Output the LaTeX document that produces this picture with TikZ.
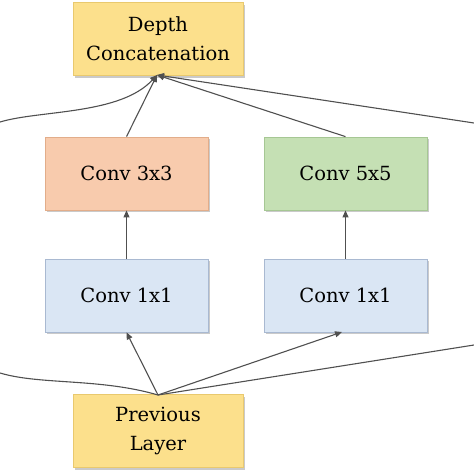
\documentclass[tikz,border=0pt]{standalone}
\usepackage{fontspec}
\setmainfont{DejaVu Serif}
\usetikzlibrary{arrows.meta,shadows,calc}
\definecolor{yel}{HTML}{FCE08C}
\definecolor{yelb}{HTML}{E9C96E}
\definecolor{sal}{HTML}{F8CBAD}
\definecolor{salb}{HTML}{E2AD8A}
\definecolor{grn}{HTML}{C5E0B4}
\definecolor{grnb}{HTML}{A6C794}
\definecolor{blu}{HTML}{DAE6F4}
\definecolor{blub}{HTML}{A9B9D1}
\definecolor{ln}{HTML}{505050}
\tikzset{
  box/.style={draw, line width=0.8pt, minimum width=163pt, minimum height=73pt, inner sep=0pt, align=center,
    font=\fontsize{19.5}{29}\selectfont,
    drop shadow={shadow xshift=2pt, shadow yshift=-2pt, fill=black!35, opacity=0.6}},
  ybox/.style={box, fill=yel, draw=yelb, minimum width=170pt},
  sbox/.style={box, fill=sal, draw=salb},
  gbox/.style={box, fill=grn, draw=grnb},
  bbox/.style={box, fill=blu, draw=blub},
  conn/.style={draw=ln, line width=1.1pt, -{Triangle[length=7pt,width=6pt]}},
  plain/.style={draw=ln, line width=1.1pt}
}
\begin{document}
\begin{tikzpicture}[x=1pt,y=-1pt]
\useasboundingbox (0,0) rectangle (474,474);
\node[ybox] (dc) at (158,39) {Depth\\Concatenation};
\node[sbox] (c3) at (126.5,173.5) {Conv 3x3};
\node[gbox] (c5) at (345.5,173.5) {Conv 5x5};
\node[bbox] (c1a) at (126.5,295.5) {Conv 1x1};
\node[bbox] (c1b) at (345.5,295.5) {Conv 1x1};
\node[ybox] (pl) at (158,431) {Previous\\Layer};
\coordinate (dcin) at (157,75);
\coordinate (plout) at (158,395);
\coordinate (c1bin) at (342,332);
\coordinate (lt) at (0,122);
\coordinate (rt) at (474,123);
\coordinate (lb) at (0,373);
\coordinate (rb) at (474,345);
% bottom fan-out
\draw[conn] (plout) -- (c1a.south);
\draw[conn] (plout) -- (c1bin);
\draw[plain] (lb) .. controls (40,385) and (100,378) .. (plout);
\draw[plain] (plout) -- (rb);
% middle
\draw[conn] (c1a) -- (c3);
\draw[conn] (c1b) -- (c5);
% top fan-in
\draw[conn] (c3.north) -- (dcin);
\draw[conn] (c5.north) -- (dcin);
\draw[conn] (rt) -- (dcin);
\draw[conn] (lt) .. controls (40,110) and (120,115) .. (dcin);
\end{tikzpicture}
\end{document}
